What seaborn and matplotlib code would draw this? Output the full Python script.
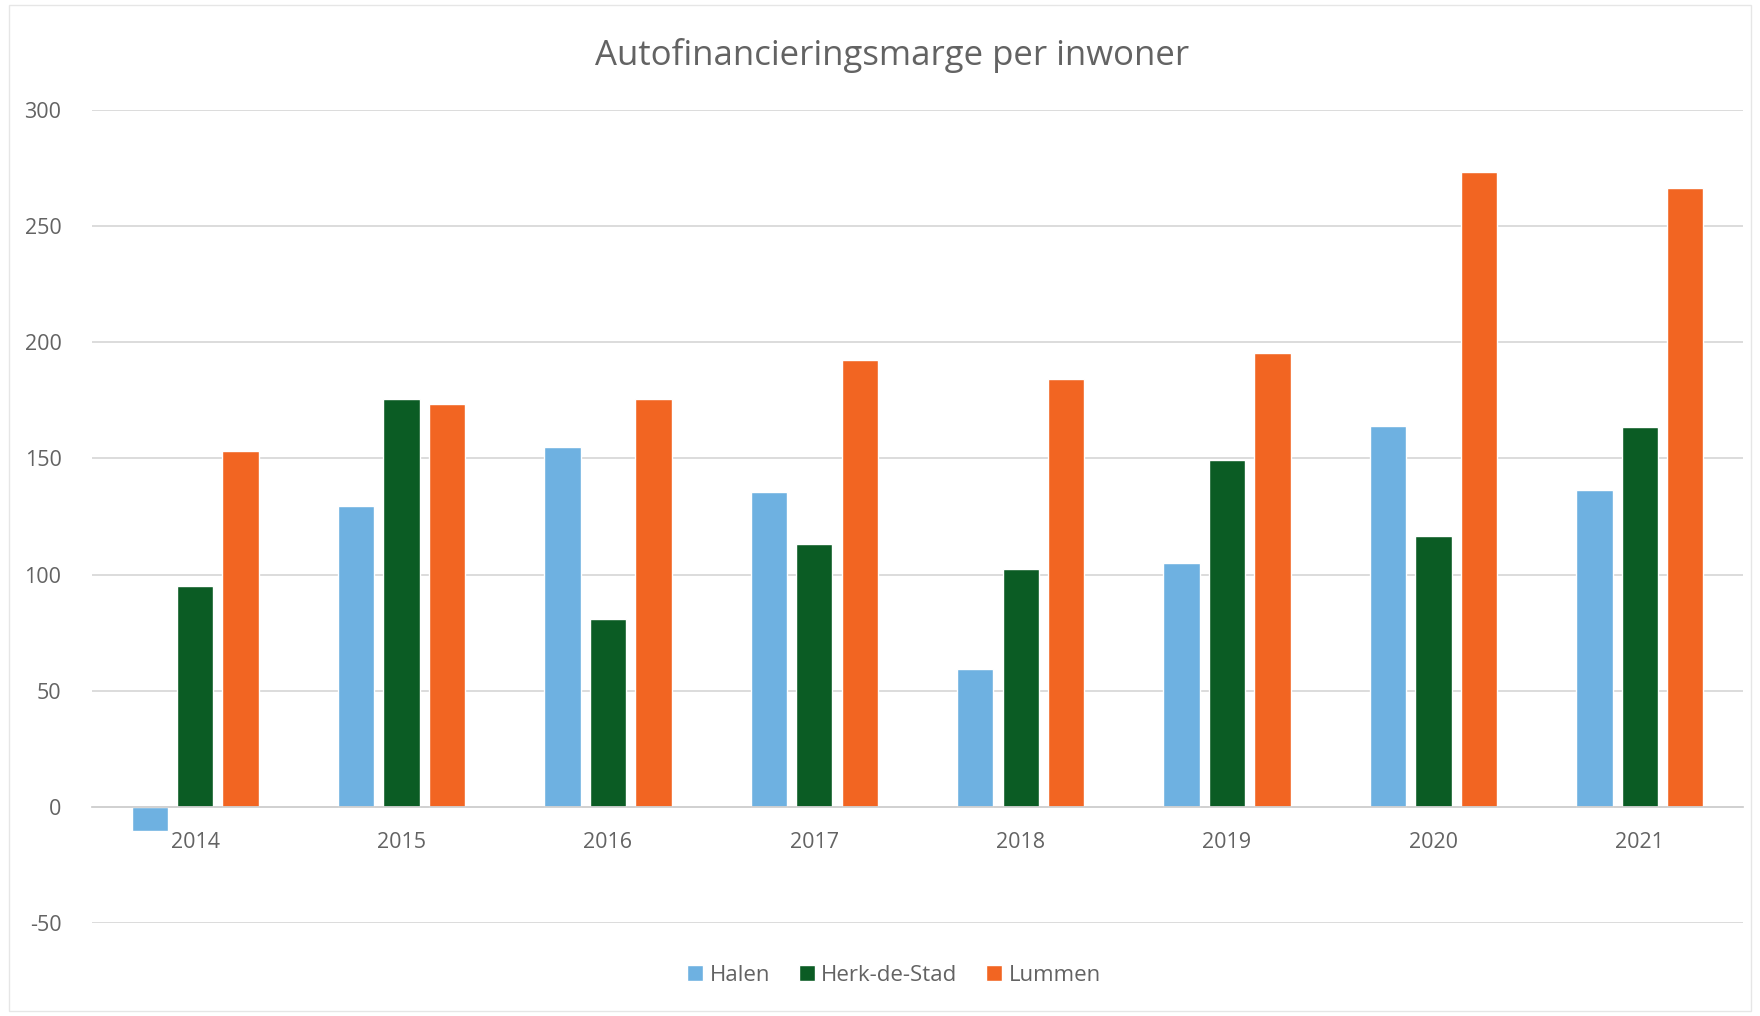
import matplotlib
matplotlib.use("Agg")
import matplotlib.pyplot as plt
import seaborn as sns
import pandas as pd

years = ["2014", "2015", "2016", "2017", "2018", "2019", "2020", "2021"]
gemeenten = ["Halen", "Herk-de-Stad", "Lummen"]
halen = [-10.5, 129.5, 154.8, 135.4, 59.3, 105.1, 163.9, 136.5]
herk_de_stad = [95.1, 175.4, 81.0, 113.1, 102.4, 149.4, 116.8, 163.4]
lummen = [153.1, 173.3, 175.7, 192.2, 184.3, 195.4, 273.5, 266.5]
y_ticks = [-50, 0, 50, 100, 150, 200, 250, 300]

kleuren = ["#6EB1E1", "#0B5C24", "#F26522"]
tekstkleur = "#636363"
rasterkleur = "#D9D9D9"

df = pd.DataFrame({
    "jaar": years * 3,
    "gemeente": [g for g in gemeenten for _ in years],
    "waarde": halen + herk_de_stad + lummen,
})

sns.set_theme(style="white")
plt.rcParams["font.family"] = ["Open Sans", "DejaVu Sans"]

fig = plt.figure(figsize=(17.6, 10.16), dpi=100)
ax = fig.add_axes([0.0523, 0.0915, 0.9380, 0.8002])

sns.barplot(data=df, x="jaar", y="waarde", hue="gemeente", order=years,
            hue_order=gemeenten, palette=kleuren, width=0.66, gap=0.2,
            saturation=1, errorbar=None, ax=ax, zorder=3)

ax.set_xlim(-0.5, len(years) - 0.5)
ax.set_ylim(-50, 300)
ax.set_yticks(y_ticks)
ax.set_yticklabels([str(v) for v in y_ticks])
ax.grid(axis="y", color=rasterkleur, linewidth=1.3, zorder=0)
ax.grid(axis="x", visible=False)
for s in ["top", "right", "left"]:
    ax.spines[s].set_visible(False)
ax.spines["bottom"].set_position(("data", 0))
ax.spines["bottom"].set_color("#D0D0D0")
ax.spines["bottom"].set_linewidth(1.3)
ax.spines["bottom"].set_zorder(4)
ax.tick_params(axis="both", length=0, labelsize=15.5, labelcolor=tekstkleur)
ax.tick_params(axis="x", pad=18)
ax.tick_params(axis="y", pad=22)
ax.set_xlabel("")
ax.set_ylabel("")

fig.text(0.507, 0.945, "Autofinancieringsmarge per inwoner", ha="center",
         va="center", fontsize=25, color=tekstkleur)

handles, labels = ax.get_legend_handles_labels()
ax.legend_.remove()
fig.legend(handles, labels, loc="center", bbox_to_anchor=(0.508, 0.040),
           ncol=3, frameon=False, fontsize=16, labelcolor=tekstkleur,
           handlelength=0.7, handleheight=0.7, handletextpad=0.3,
           columnspacing=1.3)

# thin frame around the chart area
fig.patches.append(plt.Rectangle((0.005, 0.005), 0.99, 0.99, transform=fig.transFigure,
                                 fill=False, edgecolor="#E6E6E6", linewidth=1))

fig.savefig("out.png", dpi=100, facecolor="white")
